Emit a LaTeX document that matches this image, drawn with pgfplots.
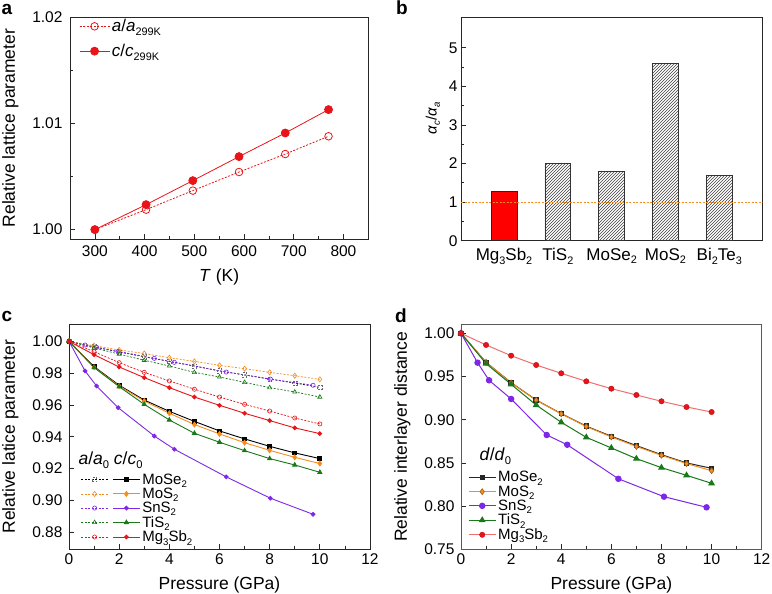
\documentclass[border=0pt]{standalone}
\usepackage{pgfplots}
\pgfplotsset{compat=1.18}
\usepackage{graphicx}
\usepackage{fontspec}
\setmainfont{Liberation Sans}
\usetikzlibrary{patterns}
\definecolor{cred}{RGB}{232,20,25}
\definecolor{corange}{RGB}{245,140,30}
\definecolor{cpurple}{RGB}{125,40,230}
\definecolor{cgreen}{RGB}{25,120,25}
\definecolor{lred}{RGB}{240,110,110}
\newcommand\sub[1]{\raisebox{-0.22em}{\scalebox{0.64}{#1}}}
\pgfplotsset{
  myax/.style={scale only axis, anchor=south west, tick pos=left, tick align=inside,
    axis line style={line width=0.8pt, black!85},
    major tick length=5pt, minor tick length=3pt,
    every tick/.style={line width=0.7pt, black!85},
    ticklabel style={font=\fontsize{15.5}{17}\selectfont},
    xlabel style={font=\fontsize{17.5}{20}\selectfont},
    ylabel style={font=\fontsize{17.5}{20}\selectfont},
    /pgf/number format/assume math mode=true, scaled ticks=false},
  aS/.style={dash pattern=on 2pt off 1.5pt, line width=0.7pt, mark options={solid, fill=white, line width=0.6pt}, mark size=2.1pt},
  cS/.style={solid, line width=0.9pt, mark size=1.9pt},
  dS/.style={solid, line width=1pt, mark size=2.7pt},
  lfont/.style={font=\fontsize{15}{16}\selectfont},
}
\begin{document}
\begin{tikzpicture}
\path[use as bounding box] (0pt,0pt) rectangle (772pt,-594pt);
% ---------------- panel a
\node[font=\fontsize{19}{20}\selectfont\bfseries] at (7pt,-9pt) {a};
\begin{axis}[myax, at={(70pt,-239.3pt)}, width=298.3pt, height=222.3pt,
  xmin=250, xmax=850, ymin=0.99909, ymax=1.02,
  xtick={300,400,500,600,700,800}, minor x tick num=1,
  ytick={1.00,1.01,1.02}, minor y tick num=1,
  yticklabel style={xshift=-4pt, /pgf/number format/.cd, fixed, fixed zerofill, precision=2},
  xticklabel style={yshift=-3pt},
  xlabel={\textit{T} (K)}, ylabel={Relative lattice parameter},
  ylabel shift=7pt, xlabel shift=5pt,
  legend style={at={(rel axis cs:0.02,1.008)}, anchor=north west, draw=none, fill=none,
    font=\fontsize{17}{18}\selectfont, row sep=7pt},
  legend cell align=left,
  legend image code/.code={\draw[mark repeat=2,mark phase=2,#1] plot coordinates {(0pt,0pt)(15pt,0pt)(30pt,0pt)};},
]
\addplot[cred, dash pattern=on 2pt off 1.5pt, line width=0.8pt, mark=o, mark size=3.8pt, mark options={solid, fill=white}]
 coordinates {(300,1.0000) (403,1.00188) (497,1.00367) (590,1.00542) (683,1.00711) (770,1.00878)};
\addlegendentry{\textit{a}/\textit{a}\sub{299K}}
\addplot[cred, line width=0.8pt, mark=*, mark size=4pt]
 coordinates {(300,1.0000) (403,1.00235) (497,1.00461) (590,1.00687) (683,1.00909) (770,1.01129)};
\addlegendentry{\textit{c}/\textit{c}\sub{299K}}
\end{axis}
% ---------------- panel b
\node[font=\fontsize{19}{20}\selectfont\bfseries] at (402pt,-8pt) {b};
\begin{axis}[myax, at={(461pt,-240.7pt)}, width=301.3pt, height=223pt,
  xmin=0.2, xmax=5.8, ymin=0, ymax=5.78,
  xtick={1,2,3,4,5}, xticklabels={Mg\sub3Sb\sub2, TiS\sub2, MoSe\sub2, MoS\sub2, Bi\sub2Te\sub3},
  x tick style={draw=none},
  xticklabel style={font=\fontsize{17}{18}\selectfont, yshift=-4pt},
  ytick={0,1,2,3,4,5}, minor y tick num=1,
  ylabel={\textit{α}\sub{\textit{c}}/\textit{α}\sub{\textit{a}}},
  ylabel style={font=\fontsize{15}{16}\selectfont, at={(ticklabel cs:0.55)}},
  ylabel shift=2pt,
]
\addplot[ybar, bar width=0.48, bar shift=0pt, fill=red, draw=black!85, line width=0.7pt]
 coordinates {(1,1.28)};
\addplot[ybar, bar width=0.48, bar shift=0pt, draw=black!80, line width=0.7pt, pattern=north east lines, pattern color=black!75]
 coordinates {(2,2.0) (3,1.8) (4,4.6) (5,1.7)};
\addplot[corange, dash pattern=on 2pt off 1.5pt, line width=0.8pt] coordinates {(0.2,1) (5.8,1)};
\end{axis}
% ---------------- panel c
\node[font=\fontsize{19}{20}\selectfont\bfseries] at (7pt,-316pt) {c};
\begin{axis}[myax, at={(69pt,-549.3pt)}, width=301pt, height=225pt,
  xmin=0, xmax=12, ymin=0.8693, ymax=1.0107,
  xtick={0,2,4,6,8,10,12}, minor x tick num=1,
  ytick={0.88,0.90,0.92,0.94,0.96,0.98,1.00},
  yticklabel style={xshift=-3pt, /pgf/number format/.cd, fixed, fixed zerofill, precision=2},
  xticklabel style={yshift=-1pt},
  xlabel={Pressure (GPa)}, ylabel={Relative latice parameter},
  ylabel shift=7pt, xlabel shift=5pt,
  legend columns=2,
  legend style={at={(rel axis cs:0.035,0.35)}, anchor=north west, draw=none, fill=none,
    lfont, row sep=-1.8pt, inner sep=1pt},
  legend cell align=left,
  legend image code/.code={\draw[mark repeat=2,mark phase=2,#1] plot coordinates {(0pt,0pt)(13.5pt,0pt)(27pt,0pt)};},
]
\addplot[black, aS, mark=square, mark options={black!60}] coordinates {(0,1) (1,0.9965) (2,0.9933) (3,0.9903) (4,0.9874) (5,0.9845) (6,0.9814) (7,0.9789) (8,0.9763) (9,0.9738) (10,0.9711)};
\addlegendentry{}
\addplot[black, cS, mark=square*] coordinates {(0,1) (1,0.9841) (2,0.9724) (3,0.9631) (4,0.9560) (5,0.9497) (6,0.9437) (7,0.9387) (8,0.9340) (9,0.9299) (10,0.9263)};
\addlegendentry{MoSe\sub2}
\addplot[corange, aS, mark=diamond, mark size=2.6pt] coordinates {(0,1) (1,0.9973) (2,0.9946) (3,0.9923) (4,0.9897) (5,0.9874) (6,0.9849) (7,0.9828) (8,0.9805) (9,0.9784) (10,0.9761)};
\addlegendentry{}
\addplot[corange, cS, mark=diamond*, mark size=2.4pt] coordinates {(0,1) (1,0.9837) (2,0.9719) (3,0.9625) (4,0.9548) (5,0.9477) (6,0.9418) (7,0.9363) (8,0.9315) (9,0.9271) (10,0.9232)};
\addlegendentry{MoS\sub2}
\addplot[cpurple, aS, mark=o] coordinates {(0,1) (0.64,0.9977) (1.10,0.9962) (1.96,0.9937) (3.40,0.9893) (4.20,0.9868) (6.27,0.9807) (8.03,0.9763) (9.73,0.9724)};
\addlegendentry{}
\addplot[cpurple, cS, mark=*] coordinates {(0,1) (0.64,0.9814) (1.10,0.9719) (1.96,0.9583) (3.40,0.9405) (4.20,0.9322) (6.27,0.9148) (8.03,0.9014) (9.73,0.8913)};
\addlegendentry{SnS\sub2}
\addplot[cgreen, aS, mark=triangle, mark size=2.4pt] coordinates {(0,1) (1,0.9958) (2,0.9920) (3,0.9881) (4,0.9845) (5,0.9805) (6,0.9776) (7,0.9742) (8,0.9709) (9,0.9682) (10,0.9650)};
\addlegendentry{}
\addplot[cgreen, cS, mark=triangle*, mark size=2.3pt] coordinates {(0,1) (1,0.9835) (2,0.9715) (3,0.9604) (4,0.9506) (5,0.9422) (6,0.9366) (7,0.9313) (8,0.9263) (9,0.9223) (10,0.9177)};
\addlegendentry{TiS\sub2}
\addplot[cred, aS, mark=o] coordinates {(0,1) (1,0.9935) (2,0.9866) (3,0.9805) (4,0.9751) (5,0.9699) (6,0.9650) (7,0.9604) (8,0.9562) (9,0.9518) (10,0.9481)};
\addlegendentry{}
\addplot[cred, cS, mark=*] coordinates {(0,1) (1,0.9916) (2,0.9839) (3,0.9772) (4,0.9709) (5,0.9650) (6,0.9598) (7,0.9548) (8,0.9502) (9,0.9456) (10,0.9420)};
\addlegendentry{Mg\sub3Sb\sub2}
\node[anchor=west, font=\fontsize{17.5}{19}\selectfont] at (rel axis cs:0.02,0.395) {\textit{a}/\textit{a}\sub{0} \textit{c}/\textit{c}\sub{0}};
\end{axis}
% ---------------- panel d
\node[font=\fontsize{19}{20}\selectfont\bfseries] at (401pt,-316pt) {d};
\begin{axis}[myax, at={(461pt,-549.3pt)}, width=300.7pt, height=225pt,
  axis line style={line width=0.9pt, black!65},
  xmin=0, xmax=12, ymin=0.75, ymax=1.0104,
  xtick={0,2,4,6,8,10,12}, minor x tick num=1,
  ytick={0.75,0.80,0.85,0.90,0.95,1.00},
  yticklabel style={xshift=-3pt, /pgf/number format/.cd, fixed, fixed zerofill, precision=2},
  xticklabel style={yshift=-1pt},
  xlabel={Pressure (GPa)}, ylabel={Relative interlayer distance},
  ylabel shift=7pt, xlabel shift=5pt,
  legend style={at={(rel axis cs:0.02,0.36)}, anchor=north west, draw=none, fill=none,
    lfont, row sep=-1.8pt, inner sep=1pt},
  legend cell align=left,
  legend image code/.code={\draw[mark repeat=2,mark phase=2,#1] plot coordinates {(0pt,0pt)(13.5pt,0pt)(27pt,0pt)};},
]
\addplot[black!85, dS, mark=square*, mark size=2.2pt] coordinates {(0,1) (1,0.9664) (2,0.9429) (3,0.9228) (4,0.9070) (5,0.8925) (6,0.8808) (7,0.8700) (8,0.8595) (9,0.8500) (10,0.8437)};
\addlegendentry{MoSe\sub2}
\addplot[corange, dS, mark=diamond*, mark size=3pt, mark options={fill=corange, draw=corange!60!black, line width=0.5pt}] coordinates {(0,1) (1,0.9664) (2,0.9427) (3,0.9226) (4,0.9068) (5,0.8921) (6,0.8800) (7,0.8690) (8,0.8588) (9,0.8492) (10,0.8410)};
\addlegendentry{MoS\sub2}
\addplot[cpurple, dS, mark=*, mark options={fill=cpurple, draw=cpurple}] coordinates {(0,1) (0.66,0.9660) (1.12,0.9456) (2.0,0.9240) (3.42,0.8823) (4.24,0.8710) (6.28,0.8316) (8.1,0.8109) (9.8,0.7986)};
\addlegendentry{SnS\sub2}
\addplot[cgreen, dS, mark=triangle*, mark size=3pt] coordinates {(0,1) (1,0.9649) (2,0.9409) (3,0.9170) (4,0.8970) (5,0.8796) (6,0.8673) (7,0.8549) (8,0.8445) (9,0.8356) (10,0.8264)};
\addlegendentry{TiS\sub2}
\addplot[lred, dS, mark=*, mark options={fill=cred, draw=cred!80!black, line width=0.4pt}] coordinates {(0,1) (1,0.9865) (2,0.9741) (3,0.9633) (4,0.9537) (5,0.9444) (6,0.9359) (7,0.9286) (8,0.9213) (9,0.9147) (10,0.9089)};
\addlegendentry{Mg\sub3Sb\sub2}
\node[anchor=west, font=\fontsize{17.5}{19}\selectfont] at (rel axis cs:0.05,0.413) {\textit{d}/\textit{d}\sub{0}};
\end{axis}
\end{tikzpicture}
\end{document}
